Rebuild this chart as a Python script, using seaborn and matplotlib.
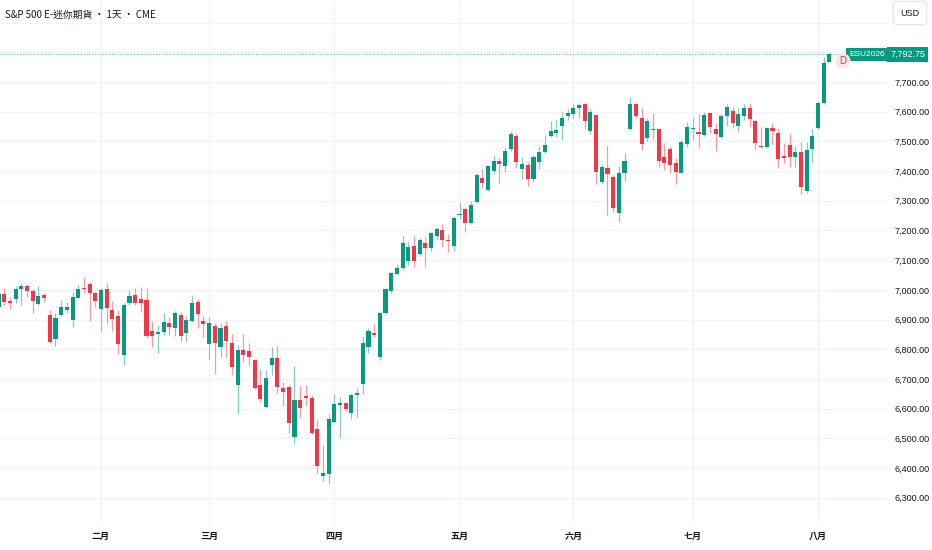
import numpy as np
import pandas as pd
import seaborn as sns
import matplotlib.pyplot as plt

# daily OHLC (ESU2026, Jan 6 .. Aug 5 2026)
opens = [
    6942, 6986, 6963, 6969, 7003, 7013, 6996, 6952, 6983, 6915,
    6835, 6915, 6932, 6899, 6973, 7006, 7020, 6989, 6936, 7003,
    6932, 6912, 6781, 6956, 6983, 6969, 6966, 6861, 6851, 6858,
    6888, 6872, 6915, 6855, 6895, 6959, 6895, 6818, 6878, 6808,
    6878, 6821, 6680, 6797, 6794, 6764, 6680, 6606, 6747, 6771,
    6670, 6673, 6505, 6629, 6643, 6636, 6532, 6373, 6380, 6555,
    6612, 6619, 6585, 6646, 6683, 6808, 6855, 6774, 6922, 6996,
    7053, 7074, 7097, 7148, 7121, 7158, 7141, 7181, 7202, 7168,
    7148, 7252, 7272, 7225, 7296, 7377, 7336, 7400, 7434, 7417,
    7474, 7518, 7407, 7420, 7373, 7431, 7464, 7518, 7528, 7552,
    7585, 7592, 7612, 7626, 7535, 7589, 7363, 7410, 7380, 7259,
    7394, 7542, 7626, 7579, 7511, 7542, 7542, 7447, 7474, 7427,
    7394, 7491, 7542, 7532, 7521, 7596, 7542, 7515, 7585, 7602,
    7552, 7585, 7612, 7569, 7484, 7481, 7545, 7528, 7451, 7488,
    7447, 7464, 7333, 7474, 7545, 7629, 7767,
]
highs = [
    6993, 7006, 6976, 7013, 7023, 7020, 7003, 7013, 6989, 6932,
    6922, 6966, 6959, 6993, 7016, 7043, 7026, 6993, 7006, 7023,
    6963, 6932, 6956, 7000, 7006, 7010, 7006, 6895, 6882, 6922,
    6909, 6929, 6925, 6912, 6983, 6969, 6912, 6909, 6888, 6888,
    6895, 6851, 6814, 6851, 6821, 6764, 6734, 6730, 6808, 6811,
    6690, 6680, 6744, 6676, 6680, 6646, 6565, 6478, 6582, 6649,
    6639, 6622, 6653, 6670, 6845, 6872, 6885, 6925, 7006, 7060,
    7087, 7181, 7161, 7181, 7175, 7178, 7195, 7212, 7222, 7188,
    7249, 7296, 7279, 7299, 7394, 7407, 7420, 7454, 7444, 7481,
    7535, 7528, 7447, 7431, 7454, 7484, 7521, 7569, 7572, 7599,
    7609, 7629, 7629, 7629, 7609, 7589, 7424, 7488, 7387, 7417,
    7461, 7649, 7629, 7612, 7579, 7596, 7545, 7494, 7484, 7444,
    7505, 7565, 7579, 7592, 7599, 7599, 7562, 7592, 7626, 7616,
    7612, 7626, 7629, 7572, 7548, 7548, 7562, 7545, 7494, 7525,
    7484, 7498, 7498, 7542, 7636, 7784, 7798,
]
lows = [
    6936, 6949, 6936, 6956, 6949, 6976, 6922, 6949, 6959, 6821,
    6811, 6912, 6922, 6875, 6973, 6989, 6895, 6942, 6861, 6885,
    6861, 6784, 6747, 6949, 6949, 6925, 6838, 6808, 6787, 6848,
    6848, 6845, 6828, 6824, 6892, 6872, 6841, 6767, 6717, 6774,
    6774, 6713, 6582, 6757, 6747, 6666, 6622, 6602, 6713, 6653,
    6609, 6518, 6481, 6569, 6612, 6515, 6383, 6357, 6346, 6552,
    6501, 6592, 6565, 6572, 6649, 6787, 6841, 6764, 6919, 6989,
    7050, 7067, 7084, 7077, 7114, 7077, 7131, 7168, 7144, 7128,
    7131, 7239, 7195, 7222, 7292, 7343, 7333, 7390, 7360, 7397,
    7468, 7410, 7373, 7350, 7363, 7407, 7461, 7515, 7515, 7505,
    7572, 7579, 7579, 7542, 7525, 7356, 7356, 7252, 7262, 7228,
    7367, 7538, 7579, 7471, 7501, 7505, 7414, 7404, 7394, 7356,
    7394, 7481, 7505, 7478, 7518, 7528, 7468, 7511, 7552, 7545,
    7532, 7572, 7548, 7474, 7478, 7478, 7491, 7410, 7427, 7414,
    7414, 7323, 7326, 7431, 7542, 7626, 7767,
]
closes = [
    6986, 6959, 6957, 7003, 7013, 6996, 6963, 6979, 6973, 6824,
    6905, 6942, 6942, 6976, 7003, 7003, 6989, 6963, 7000, 6939,
    6902, 6818, 6949, 6979, 6956, 6956, 6845, 6845, 6858, 6892,
    6875, 6922, 6845, 6899, 6956, 6919, 6885, 6888, 6821, 6872,
    6828, 6740, 6797, 6781, 6774, 6670, 6633, 6703, 6771, 6673,
    6656, 6552, 6629, 6602, 6636, 6518, 6407, 6383, 6565, 6616,
    6619, 6599, 6646, 6653, 6821, 6861, 6848, 6922, 7003, 7057,
    7074, 7158, 7144, 7097, 7168, 7141, 7191, 7205, 7168, 7165,
    7242, 7255, 7225, 7286, 7387, 7360, 7417, 7434, 7424, 7468,
    7525, 7431, 7424, 7373, 7447, 7464, 7488, 7535, 7538, 7579,
    7596, 7612, 7622, 7569, 7599, 7397, 7414, 7390, 7276, 7394,
    7434, 7626, 7585, 7491, 7569, 7538, 7434, 7427, 7420, 7397,
    7498, 7548, 7545, 7525, 7589, 7548, 7525, 7585, 7616, 7562,
    7592, 7612, 7575, 7494, 7481, 7545, 7535, 7441, 7444, 7447,
    7464, 7346, 7471, 7518, 7629, 7764, 7792.75,
]

month_names = ["二月", "三月", "四月", "五月", "六月", "七月", "八月"]
holidays = ["2026-01-19", "2026-02-16", "2026-05-25", "2026-06-19", "2026-07-03"]
symbol = "ESU2026"
title = "S&P 500 E-迷你期貨 · 1天 · CME"

UP = "#089981"
DOWN = "#F23645"
UP_WICK = "#83ccc0"
DOWN_WICK = "#f89aa2"
TEXT = "#131722"
GRID = "#f0f3fa"

bday = pd.offsets.CustomBusinessDay(holidays=holidays)
dates = pd.date_range("2026-01-06", periods=len(closes), freq=bday)

df = pd.DataFrame({"date": dates, "open": opens, "high": highs,
                   "low": lows, "close": closes})
df["idx"] = np.arange(len(df))
df["up"] = df["close"] >= df["open"]
df["body_lo"] = df[["open", "close"]].min(axis=1)
df["body_h"] = (df["close"] - df["open"]).abs().clip(lower=2.5)

sns.set_theme(style="white")
plt.rcParams["font.family"] = ["Liberation Sans", "Noto Sans CJK TC", "DejaVu Sans"]

fig = plt.figure(figsize=(9.32, 5.5), dpi=100)
ax = fig.add_axes([0, 25 / 550, 888 / 932, 525 / 550])

# wicks then bodies
ax.vlines(df["idx"], df["low"], df["high"],
          colors=np.where(df["up"], UP_WICK, DOWN_WICK), linewidth=0.9, zorder=2)
ax.bar(df["idx"], df["body_h"], bottom=df["body_lo"], width=0.72,
       color=np.where(df["up"], UP, DOWN), linewidth=0, zorder=3)

ax.set_xlim(0.25, 156.3)
ax.set_ylim(6208, 7976)

# month gridlines / labels
month_start = df[df["date"].dt.month > 1].groupby(df["date"].dt.month)["idx"].min()
ax.set_xticks(month_start.values)
ax.set_xticklabels(month_names, fontsize=6.5, fontweight="bold", color=TEXT,
                   family=["Noto Sans CJK TC", "DejaVu Sans"])

yt = np.arange(6300, 8000, 100)
ax.set_yticks(yt)
ax.set_yticklabels([f"{v:,.2f}" if v <= 7700 else "" for v in yt],
                   fontsize=6.5, color=TEXT)
ax.yaxis.tick_right()
ax.tick_params(axis="x", length=0, pad=5)
ax.tick_params(axis="y", length=0, pad=5)
ax.grid(True, color=GRID, linewidth=0.8, zorder=0)
for s in ax.spines.values():
    s.set_visible(False)

# last price line + tags
last = closes[-1]
ax.axhline(last, color=UP, linestyle=(0, (1, 1.5)), linewidth=0.8, alpha=0.6, zorder=1)
ax.annotate(symbol, xy=(1, last), xycoords=("axes fraction", "data"),
            xytext=(-2.5, 0), textcoords="offset points", ha="right", va="center",
            fontsize=6, color="white", annotation_clip=False,
            bbox=dict(boxstyle="square,pad=0.35", fc=UP, ec="none"))
ax.annotate(f"{last:,.2f}", xy=(1, last), xycoords=("axes fraction", "data"),
            xytext=(1.5, 0), textcoords="offset points", ha="left", va="center",
            fontsize=6.5, color="white", annotation_clip=False,
            bbox=dict(boxstyle="square,pad=0.3", fc=UP, ec="none"))
ax.text(df["idx"].iloc[-1] + 2.4, last - 22, "D", color=DOWN, fontsize=7,
        ha="center", va="center", zorder=4,
        bbox=dict(boxstyle="circle,pad=0.25", fc="#fde6e8", ec="none"))

fig.text(5 / 932, 1 - 15 / 550, title, fontsize=7, color=TEXT, va="center",
         family=["Noto Sans CJK TC", "DejaVu Sans"])
fig.text(910 / 932, 1 - 13 / 550, "USD", fontsize=6.5, color=TEXT,
         ha="center", va="center",
         bbox=dict(boxstyle="round,pad=0.8,rounding_size=0.5", fc="white", ec="#e0e3eb", lw=0.8))

fig.savefig("out.png", dpi=100, facecolor="white")
